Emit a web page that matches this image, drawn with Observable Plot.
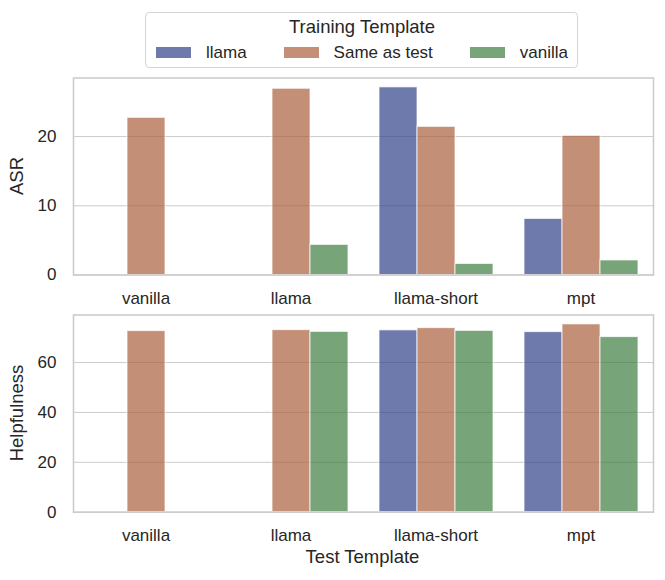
<!DOCTYPE html>
<html>
<head>
<meta charset="utf-8">
<script src="https://cdn.jsdelivr.net/npm/d3@7"></script>
<script src="https://cdn.jsdelivr.net/npm/@observablehq/plot@0.6"></script>
<style>
  html, body { margin: 0; padding: 0; background: white; }
  #chart { position: relative; width: 665px; height: 580px; font-family: "Liberation Sans", Arial, sans-serif; color: #262626; background: white; overflow: hidden; }
  #chart svg { position: absolute; left: 0; }
  .abs { position: absolute; line-height: 1; white-space: nowrap; }
  .legend-box { position: absolute; left: 145px; top: 11.5px; width: 433px; height: 56px; border: 1px solid #d4d4d4; border-radius: 4px; box-sizing: border-box; }
  .legend-row { position: absolute; left: 145px; width: 434px; top: 43.6px; display: flex; justify-content: center; gap: 37px; font-size: 17px; line-height: 17px; }
  .legend-item { display: flex; align-items: flex-start; }
  .legend-patch { width: 35px; height: 11px; margin-top: 3px; margin-right: 15px; }
</style>
</head>
<body>
<div id="chart"></div>
<script>
// ---- data ----
const testTemplates = ["vanilla", "llama", "llama-short", "mpt"];
const trainingTemplates = ["llama", "Same as test", "vanilla"];
const trainingColors = ["#304287", "#ab5f3d", "#3e7d41"];

// ASR by test template, one array per training template (null = no bar)
const asrLlama   = [null, null, 27.1, 8.1];
const asrSame    = [22.7, 26.9, 21.4, 20.1];
const asrVanilla = [null, 4.35, 1.6, 2.1];

// Helpfulness by test template
const helpLlama   = [null, null, 72.9, 72.2];
const helpSame    = [72.6, 73.0, 73.8, 75.3];
const helpVanilla = [null, 72.3, 72.7, 70.2];

const asrTicks = [0, 10, 20];
const helpTicks = [0, 20, 40, 60];

const legendTitle = "Training Template";
const xLabel = "Test Template";
const asrLabel = "ASR";
const helpLabel = "Helpfulness";

// ---- build tables ----
function rowsFrom(seriesList) {
  const rows = [];
  testTemplates.forEach((t, i) => {
    seriesList.forEach((s, j) => {
      if (s[i] != null) rows.push({test: t, training: trainingTemplates[j], value: s[i]});
    });
  });
  return rows;
}
const asrRows = rowsFrom([asrLlama, asrSame, asrVanilla]);
const helpRows = rowsFrom([helpLlama, helpSame, helpVanilla]);

const chart = document.getElementById("chart");

function panel({rows, ticks, height, marginTop, marginBottom, top}) {
  const ymax = d3.max(rows, d => d.value) * 1.05;
  const svg = Plot.plot({
    width: 665, height, marginLeft: 72, marginRight: 12, marginTop, marginBottom,
    style: {fontFamily: "'Liberation Sans', Arial, sans-serif", fontSize: "17px", color: "#262626", background: "transparent", overflow: "visible"},
    fx: {domain: testTemplates, padding: 0, label: null},
    x: {domain: trainingTemplates, paddingInner: 0, paddingOuter: 0.375, axis: null},
    y: {domain: [0, ymax], label: null},
    color: {domain: trainingTemplates, range: trainingColors},
    marks: [
      Plot.gridY(ticks, {stroke: "#cccccc", strokeOpacity: 1, strokeWidth: 1}),
      Plot.barY(rows, {fx: "test", x: "training", y: "value", fill: "training", fillOpacity: 0.7, stroke: "white", strokeOpacity: 0.75, strokeWidth: 1}),
      Plot.frame({facet: "super", stroke: "#cccccc", strokeWidth: 1.6}),
      Plot.axisY(ticks, {tickSize: 0, tickPadding: 17, label: null}),
      Plot.axisFx({anchor: "bottom", tickSize: 0, tickPadding: 17, label: null})
    ]
  });
  svg.style.top = top + "px";
  chart.appendChild(svg);
}

panel({rows: asrRows, ticks: asrTicks, height: 306, marginTop: 77.5, marginBottom: 31.5, top: 0});
panel({rows: helpRows, ticks: helpTicks, height: 274, marginTop: 8.5, marginBottom: 68.3, top: 306});

// ---- axis titles ----
function addText(text, css) {
  const d = document.createElement("div");
  d.className = "abs";
  d.textContent = text;
  Object.assign(d.style, css);
  chart.appendChild(d);
  return d;
}
addText(asrLabel, {left: "17px", top: "176px", fontSize: "18.5px", transform: "translate(-50%,-50%) rotate(-90deg)"});
addText(helpLabel, {left: "17px", top: "413px", fontSize: "18.5px", transform: "translate(-50%,-50%) rotate(-90deg)"});
addText(xLabel, {left: "362.5px", top: "548.3px", fontSize: "18.5px", transform: "translateX(-50%)"});

// ---- legend ----
const box = document.createElement("div");
box.className = "legend-box";
chart.appendChild(box);
addText(legendTitle, {left: "145px", width: "434px", top: "17.6px", fontSize: "18.5px", textAlign: "center"});
const row = document.createElement("div");
row.className = "legend-row";
trainingTemplates.forEach((t, i) => {
  const item = document.createElement("div");
  item.className = "legend-item";
  const patch = document.createElement("div");
  patch.className = "legend-patch";
  patch.style.background = trainingColors[i];
  patch.style.opacity = 0.7;
  const label = document.createElement("span");
  label.textContent = t;
  item.appendChild(patch);
  item.appendChild(label);
  row.appendChild(item);
});
chart.appendChild(row);
</script>
</body>
</html>
